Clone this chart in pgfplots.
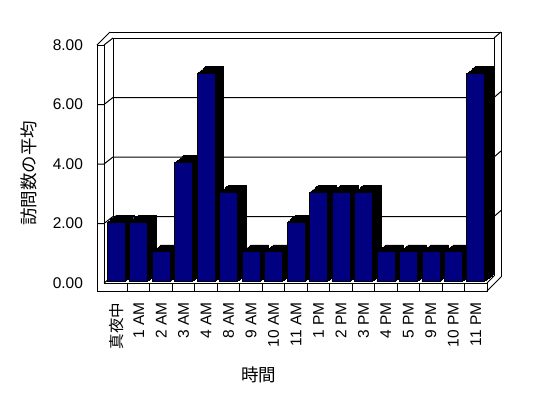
\documentclass[border=0pt]{standalone}
\usepackage{fontspec}
\setmainfont{Liberation Sans}
\newfontfamily\jp{Noto Sans CJK JP}
\usepackage{pgfplots}
\usepackage{pgfplotstable}
\pgfplotsset{compat=1.18}
\definecolor{barnavy}{HTML}{000080}

\pgfplotstableread{
x v
0 2
1 2
2 1
3 4
4 7
5 3
6 1
7 1
8 2
9 3
10 3
11 3
12 1
13 1
14 1
15 1
16 7
}\data

\begin{document}
\begin{tikzpicture}
\begin{scope}[x=1bp,y=1bp,line width=1bp]
\useasboundingbox (-105,-115) rectangle (443,283);
% floor back edge
\draw (8,7) -- (389,7);
% back wall grid lines with wall ticks
\foreach \Y in {59.5,119,178.5} {
  \draw (-8,\Y) -- (-1,\Y) -- (8,\Y+7) -- (389,\Y+7) -- (396,\Y+13);
}
% back wall
\draw (8,7) -- (8,245) -- (389,245) -- (389,7);
\draw (5,251) -- (396,251) -- (396,6);
\draw (389,245) -- (396,251);
% left wall
\draw (-8,-8) -- (-8,238) -- (-1,238) -- (-1,0);
\draw (-8,238) -- (5,251);
\draw (-1,238) -- (8,245);
\draw (-1,0) -- (8,7);
% floor
\draw (-1,0) -- (382,0) -- (382,-8) -- (-8,-8);
\draw (382,-8) -- (396,6);
\draw (382,0) -- (389,7);
\foreach \k in {1,...,16} { \draw (22.47*\k,0) -- (22.47*\k,-8); }
\end{scope}
\begin{axis}[
  at={(0,0)}, anchor=south west,
  scale only axis, width=382bp, height=238bp,
  xmin=-0.5, xmax=16.5, ymin=0, ymax=8,
  clip=false,
  axis line style={draw=none},
  major tick length=0pt,
  ytick={0,2,4,6,8},
  xtick={0,...,16},
  xticklabels={{\jp 真夜中},1 AM,2 AM,3 AM,4 AM,8 AM,9 AM,10 AM,11 AM,1 PM,2 PM,3 PM,4 PM,5 PM,9 PM,10 PM,11 PM},
  /pgf/number format/assume math mode=true,
  yticklabel style={/pgf/number format/fixed,/pgf/number format/fixed zerofill,/pgf/number format/precision=2},
  ticklabel style={font=\fontsize{15.5bp}{17bp}\selectfont},
  xticklabel style={rotate=90, anchor=east},
  xticklabel shift=16bp,
  yticklabel shift=18.5bp,
  every axis x label/.style={at={(axis description cs:0.403,-0.3866)}, anchor=center},
  every axis y label/.style={at={(axis description cs:-0.2003,0.462)}, rotate=90, anchor=center},
  label style={font=\jp\fontsize{17.5bp}{19bp}\selectfont},
  xlabel={時間},
  ylabel={訪問数の平均},
]
\addplot[ybar, bar width=18bp, bar shift=0pt, fill=black, draw=black, xshift=1.42bp, yshift=2.67bp] table[x=x,y=v]{\data};
\addplot[ybar, bar width=18bp, bar shift=0pt, fill=black, draw=black, xshift=2.83bp, yshift=3.83bp] table[x=x,y=v]{\data};
\addplot[ybar, bar width=18bp, bar shift=0pt, fill=black, draw=black, xshift=4.25bp, yshift=5bp] table[x=x,y=v]{\data};
\addplot[ybar, bar width=18bp, bar shift=0pt, fill=black, draw=black, xshift=5.67bp, yshift=6.17bp] table[x=x,y=v]{\data};
\addplot[ybar, bar width=18bp, bar shift=0pt, fill=black, draw=black, xshift=7.08bp, yshift=7.33bp] table[x=x,y=v]{\data};
\addplot[ybar, bar width=18bp, bar shift=0pt, fill=black, draw=black, xshift=8.5bp, yshift=8.5bp] table[x=x,y=v]{\data};
\addplot[ybar, bar width=18bp, bar shift=0pt, fill=barnavy, draw=black, line width=0.6bp, yshift=1.5bp] table[x=x,y=v]{\data};
\end{axis}
\end{tikzpicture}
\end{document}
